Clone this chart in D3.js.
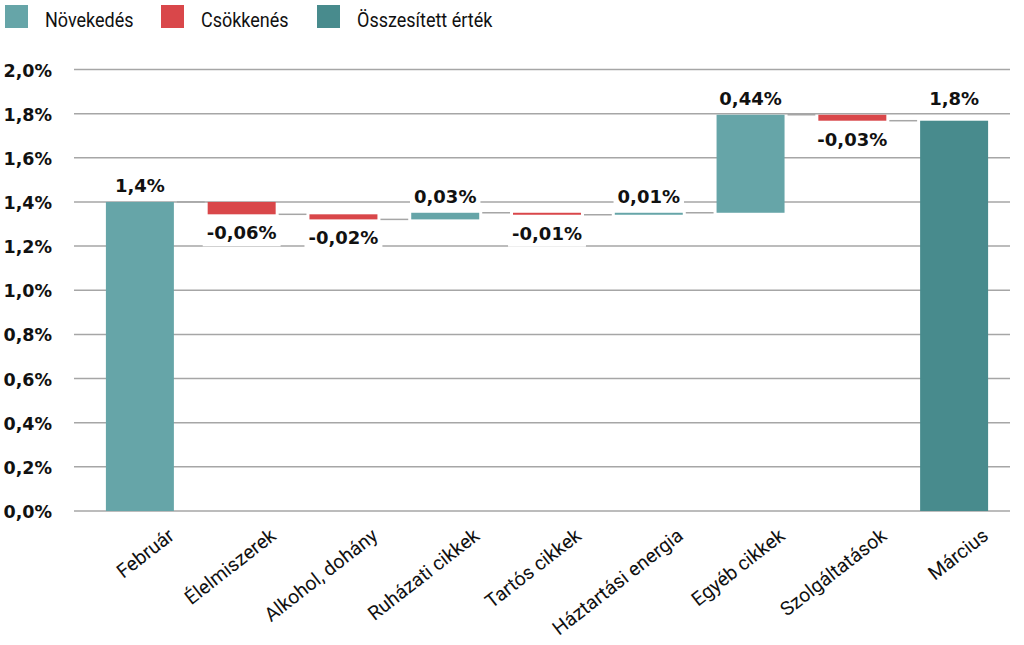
<!DOCTYPE html>
<html>
<head>
<meta charset="utf-8">
<script src="https://cdn.jsdelivr.net/npm/d3@7"></script>
<style>
  body { margin: 0; background: #fff; }
  svg { display: block; }
</style>
</head>
<body>
<div id="chart"></div>
<script>
// categories along the x axis
var categories = ["Február", "Élelmiszerek", "Alkohol, dohány", "Ruházati cikkek",
  "Tartós cikkek", "Háztartási energia", "Egyéb cikkek", "Szolgáltatások", "Március"];

// change of each step (percentage points); the last one is the running total
var changes = [1.4, -0.056, -0.023, 0.030, -0.009, 0.009, 0.444, -0.027, null];

// bar type: inc = növekedés, dec = csökkenés, total = összesített érték
var kinds = ["inc", "dec", "dec", "inc", "dec", "inc", "inc", "dec", "total"];

// legend entries
var legendNames = ["Növekedés", "Csökkenés", "Összesített érték"];
var legendKinds = ["inc", "dec", "total"];

// y axis ticks
var yTicks = [0, 0.2, 0.4, 0.6, 0.8, 1.0, 1.2, 1.4, 1.6, 1.8, 2.0];

var colors = { inc: "#66a5a8", dec: "#d9474a", total: "#488b8d" };

var W = 1024, H = 645;

var hu = d3.formatLocale({ decimal: ",", thousands: " ", grouping: [3], currency: ["", " Ft"], minus: "-" });
var fmt1 = hu.format(".1f");
var fmt2 = hu.format(".2f");

// build running totals
var steps = [];
var running = 0;
categories.forEach(function (c, i) {
  var start, end;
  if (kinds[i] == "total") {
    start = 0;
    end = running;
  } else {
    start = running;
    end = running + changes[i];
    running = end;
  }
  steps.push({ name: c, kind: kinds[i], start: start, end: end,
    value: kinds[i] == "total" ? end : changes[i], idx: i });
});

var svg = d3.select("#chart").append("svg")
  .attr("width", W)
  .attr("height", H);

var x = d3.scaleBand()
  .domain(categories)
  .range([89, 1005])
  .paddingInner(0.332)
  .paddingOuter(0.166);

var y = d3.scaleLinear()
  .domain([0, 2])
  .range([511, 69.5]);

// legend (condensed look: squeeze the text a bit)
var legend = svg.append("g").attr("class", "legend");
var legendX = [5, 161, 317];
legendNames.forEach(function (n, i) {
  legend.append("rect")
    .attr("x", legendX[i])
    .attr("y", 5)
    .attr("width", 23)
    .attr("height", 23)
    .attr("fill", colors[legendKinds[i]]);
  legend.append("text")
    .attr("transform", "translate(" + (legendX[i] + 40) + ",27) scale(0.9,1)")
    .attr("font-family", "Roboto, sans-serif")
    .attr("font-size", 20)
    .attr("fill", "#111")
    .text(n);
});

// gridlines
svg.append("g").attr("class", "grid")
  .selectAll("line")
  .data(yTicks)
  .join("line")
  .attr("x1", 74)
  .attr("x2", 1010)
  .attr("y1", function (d) { return y(d); })
  .attr("y2", function (d) { return y(d); })
  .attr("stroke", "#a6a6a6")
  .attr("stroke-width", 1.5);

// y tick labels
svg.append("g").attr("class", "y-labels")
  .selectAll("text")
  .data(yTicks)
  .join("text")
  .attr("x", 52)
  .attr("y", function (d) { return y(d) + 7; })
  .attr("text-anchor", "end")
  .attr("font-family", "DejaVu Sans, sans-serif")
  .attr("font-weight", "bold")
  .attr("font-size", 17.5)
  .attr("fill", "#111")
  .text(function (d) { return fmt1(d) + "%"; });

// connectors between bars
var conn = [];
for (var i = 0; i < steps.length - 1; i++) {
  conn.push({ from: steps[i], to: steps[i + 1] });
}
svg.append("g").attr("class", "connectors")
  .selectAll("line")
  .data(conn)
  .join("line")
  .attr("x1", function (d) { return x(d.from.name) + x.bandwidth() + 3; })
  .attr("x2", function (d) { return x(d.to.name) - 3; })
  .attr("y1", function (d) { return y(d.from.end); })
  .attr("y2", function (d) { return y(d.from.end); })
  .attr("stroke", "#a6a6a6")
  .attr("stroke-width", 1.5);

// bars
svg.append("g").attr("class", "bars")
  .selectAll("rect")
  .data(steps)
  .join("rect")
  .attr("x", function (d) { return x(d.name); })
  .attr("width", x.bandwidth())
  .attr("y", function (d) { return y(Math.max(d.start, d.end)); })
  .attr("height", function (d) { return Math.max(1.5, Math.abs(y(d.start) - y(d.end))); })
  .attr("fill", function (d) { return colors[d.kind]; });

// value labels with white background
var vl = svg.append("g").attr("class", "value-labels")
  .selectAll("g")
  .data(steps)
  .join("g");

vl.append("rect").attr("fill", "#fff");

vl.append("text")
  .attr("x", function (d) { return x(d.name) + x.bandwidth() / 2; })
  .attr("y", function (d) {
    if (d.kind == "dec") return y(Math.min(d.start, d.end)) + 25;
    if (d.kind == "total") return y(d.end) - 16;
    return y(Math.max(d.start, d.end)) - 10;
  })
  .attr("text-anchor", "middle")
  .attr("font-family", "DejaVu Sans, sans-serif")
  .attr("font-weight", "bold")
  .attr("font-size", 18)
  .attr("fill", "#111")
  .text(function (d) {
    if (d.kind == "total" || d.idx == 0) return fmt1(d.value) + "%";
    return fmt2(d.value) + "%";
  });

vl.each(function () {
  var g = d3.select(this);
  var b = g.select("text").node().getBBox();
  g.select("rect")
    .attr("x", b.x - 4)
    .attr("y", b.y - 1)
    .attr("width", b.width + 8)
    .attr("height", b.height + 4);
});

// x labels, rotated
svg.append("g").attr("class", "x-labels")
  .selectAll("text")
  .data(categories)
  .join("text")
  .attr("transform", function (d) {
    return "translate(" + (x(d) + x.bandwidth() / 2 + 27) + ",527) rotate(-38)";
  })
  .attr("dy", "0.72em")
  .attr("text-anchor", "end")
  .attr("font-family", "Roboto, sans-serif")
  .attr("font-size", 19.5)
  .attr("fill", "#111")
  .text(function (d) { return d; });
</script>
</body>
</html>
